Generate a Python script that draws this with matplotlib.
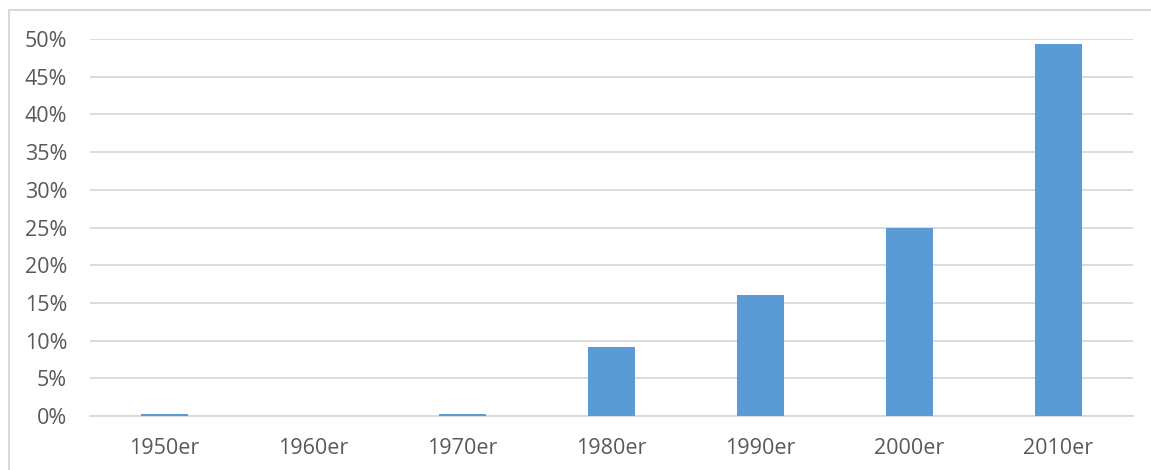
import matplotlib.pyplot as plt
from matplotlib.patches import Rectangle
from matplotlib.ticker import FuncFormatter

# values (share in percent)
decades = ["1950er", "1960er", "1970er", "1980er", "1990er", "2000er", "2010er"]
shares = [0.2, 0.0, 0.3, 9.2, 16.0, 24.9, 49.4]
yticks = [0, 5, 10, 15, 20, 25, 30, 35, 40, 45, 50]

plt.rcParams["font.family"] = ["Open Sans", "DejaVu Sans"]
text_color = "#595959"
grid_color = "#d9d9d9"

fig = plt.figure(figsize=(11.51, 4.70), dpi=100)
ax = fig.add_axes([90 / 1151, 54 / 470, 1043 / 1151, 377 / 470])

ax.bar(range(len(decades)), shares, width=0.31, color="#5b9bd5", zorder=3)

ax.set_xlim(-0.5, len(decades) - 0.5)
ax.set_ylim(0, 50)
ax.set_yticks(yticks)
ax.yaxis.set_major_formatter(FuncFormatter(lambda v, _: f"{v:.0f}%"))
ax.set_xticks(range(len(decades)))
ax.set_xticklabels(decades)

ax.grid(axis="y", color=grid_color, linewidth=1.3, zorder=0)
for side in ["top", "right", "left"]:
    ax.spines[side].set_visible(False)
ax.spines["bottom"].set_color(grid_color)
ax.spines["bottom"].set_linewidth(1.3)
ax.tick_params(axis="both", length=0, labelsize=15.5, labelcolor=text_color)
ax.tick_params(axis="y", pad=16.5)
ax.tick_params(axis="x", pad=15.5)

# light chart frame, cut off at the right and bottom like the screenshot
fig.patches.append(Rectangle((8.5 / 1151, -0.1), 1.2, (460 / 470) + 0.1,
                             transform=fig.transFigure, fill=False,
                             edgecolor=grid_color, linewidth=1.5))

plt.savefig("out.png", dpi=100)
